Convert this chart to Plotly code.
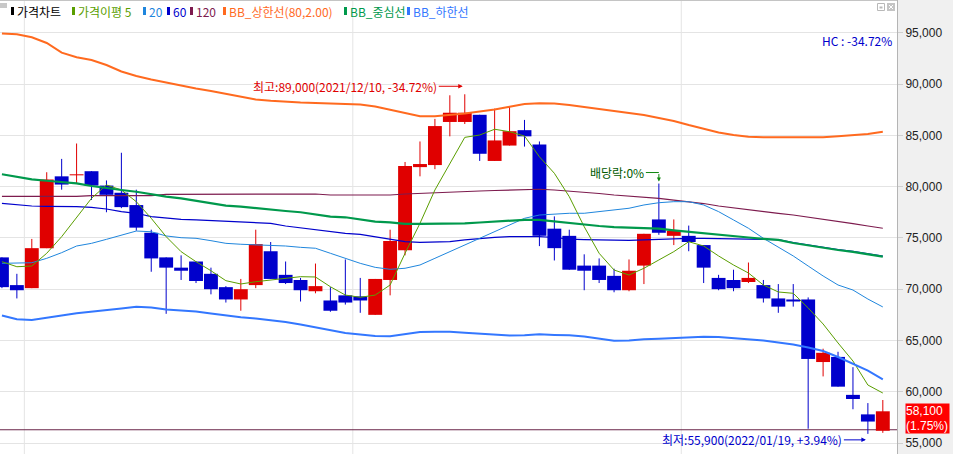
import plotly.graph_objects as go

# ---------------- data ----------------
dates = [
    "2021/10/28", "2021/10/29",
    "2021/11/01", "2021/11/02", "2021/11/03", "2021/11/04", "2021/11/05",
    "2021/11/08", "2021/11/09", "2021/11/10", "2021/11/11", "2021/11/12",
    "2021/11/15", "2021/11/16", "2021/11/17", "2021/11/18", "2021/11/19",
    "2021/11/22", "2021/11/23", "2021/11/24", "2021/11/25", "2021/11/26",
    "2021/11/29", "2021/11/30",
    "2021/12/01", "2021/12/02", "2021/12/03",
    "2021/12/06", "2021/12/07", "2021/12/08", "2021/12/09", "2021/12/10",
    "2021/12/13", "2021/12/14", "2021/12/15", "2021/12/16", "2021/12/17",
    "2021/12/20", "2021/12/21", "2021/12/22", "2021/12/23", "2021/12/24",
    "2021/12/27", "2021/12/28", "2021/12/29", "2021/12/30",
    "2022/01/03", "2022/01/04", "2022/01/05", "2022/01/06", "2022/01/07",
    "2022/01/10", "2022/01/11", "2022/01/12", "2022/01/13", "2022/01/14",
    "2022/01/17", "2022/01/18", "2022/01/19", "2022/01/20",
]

open_ = [73100, 70400, 70100, 74000, 81000, 81100, 81500, 80100, 79400, 78200,
         75500, 73100, 72100, 72700, 71500, 70200, 69000, 70400, 73700, 71400,
         70900, 69800, 68900, 69400, 69300, 67500, 70900, 73800, 81900, 82100,
         86300, 86300, 87000, 82500, 84000, 85500, 84100, 75900, 75200, 72300,
         72300, 71300, 69900, 72300, 76800, 75200, 75200, 74300, 71100, 70900,
         70700, 70400, 69100, 69000, 69000, 62900, 63400, 59700, 57800, 56200]
high = [73100, 71500, 74900, 81400, 82700, 84200, 81500, 80600, 83300, 79700,
        75800, 73100, 73300, 72700, 72100, 70300, 71000, 75800, 74600, 72700,
        71100, 72500, 70200, 72900, 71100, 71000, 75800, 82400, 84400, 86600,
        88900, 89000, 87000, 87600, 87800, 86500, 84400, 77100, 75800, 73400,
        73000, 72000, 72900, 75400, 80300, 76800, 76200, 74300, 71400, 71900,
        72600, 70900, 70500, 70500, 69200, 64200, 63900, 62400, 58900, 59200]
low = [70100, 69100, 70100, 74000, 79700, 80300, 78700, 77500, 77900, 75700,
       71700, 67600, 70900, 70600, 69500, 68700, 67900, 70100, 71000, 70500,
       68800, 69600, 67800, 68500, 67700, 67500, 69400, 73300, 81000, 81700,
       84900, 86100, 82500, 82500, 84000, 83900, 74200, 72800, 71900, 69900,
       70600, 69700, 69800, 70500, 75300, 74300, 73700, 70600, 69900, 69800,
       70600, 68700, 67700, 68300, 56400, 61500, 60500, 58300, 55900, 56000]
close = [70200, 69900, 74000, 80700, 80200, 81200, 80100, 79200, 78000, 76000,
         73000, 72100, 71800, 70800, 70000, 69000, 70000, 74400, 71000, 70600,
         69900, 70300, 67900, 68700, 68900, 71000, 74700, 82000, 82200, 85900,
         87200, 87200, 83200, 84500, 85400, 84900, 75200, 74000, 71900, 71800,
         70900, 69900, 71800, 75400, 75500, 75700, 74600, 72100, 70000, 70100,
         71100, 69100, 68300, 68800, 63200, 63800, 60500, 59300, 57100, 58100]

ma5 = [72680, 72190, 72260, 73500, 75120, 77010, 78860, 80160, 79670, 78530,
       76910, 75120, 73660, 72680, 71800, 70830, 70510, 70730, 70900, 71060,
       71220, 71190, 70240, 69430, 69210, 69430, 70410, 73500, 76420, 79670,
       82270, 84800, 85030, 85590, 85350, 84930, 82910, 81300, 79020, 76090,
       73500, 71870, 71380, 72040, 72850, 73660, 74630, 74210, 73240, 72360,
       71580, 70410, 69730, 69600, 68170, 66610, 64760, 63000, 60660, 59880]
ma20 = [72520, 72520, 72580, 73010, 73560, 74210, 74470, 74860, 75280, 75670,
        75600, 75190, 75020, 74960, 74730, 74470, 74380, 74310, 74310, 74210,
        74080, 73990, 73500, 73010, 72520, 72130, 71940, 72040, 72360, 73010,
        73660, 74310, 74960, 75600, 76260, 76910, 77230, 77330, 77400, 77400,
        77560, 77720, 77890, 78210, 78430, 78530, 78530, 78210, 77560, 76750,
        75940, 74960, 74140, 73240, 72260, 71290, 70410, 69920, 69040, 68270]
ma60 = [78370, 78210, 78110, 78080, 78080, 78040, 77980, 77820, 77560, 77400,
        77070, 76910, 76810, 76750, 76680, 76680, 76580, 76520, 76420, 76160,
        75990, 75840, 75600, 75450, 75350, 75120, 74860, 74630, 74570, 74570,
        74630, 74800, 74960, 75060, 75120, 75120, 75120, 75040, 74890, 74840,
        74800, 74730, 74750, 74800, 74860, 74910, 74960, 74960, 74960, 74940,
        74890, 74860, 74840, 74550, 74310, 74060, 73870, 73680, 73430, 73220]
ma120 = [79040, 79040, 79040, 79040, 79040, 79040, 79130, 79130, 79130, 79130,
         79130, 79250, 79250, 79250, 79250, 79250, 79250, 79250, 79250, 79250,
         79250, 79280, 79180, 79180, 79180, 79180, 79180, 79280, 79350, 79400,
         79440, 79500, 79570, 79620, 79670, 79740, 79740, 79670, 79570, 79420,
         79330, 79180, 79090, 78990, 78860, 78690, 78530, 78350, 78110, 77920,
         77720, 77520, 77400, 77230, 77030, 76840, 76650, 76400, 76160, 75940]
bb_mid = [81200, 80970, 80710, 80570, 80420, 80320, 80060, 79830, 79670, 79500,
          79250, 79020, 78860, 78630, 78370, 78140, 78040, 77890, 77720, 77620,
          77500, 77300, 77070, 77010, 76810, 76580, 76520, 76360, 76360, 76360,
          76390, 76420, 76500, 76580, 76650, 76760, 76760, 76600, 76420, 76290,
          76160, 76060, 76010, 75960, 75900, 75740, 75590, 75430, 75280, 75160,
          75040, 74910, 74800, 74500, 74260, 74020, 73820, 73630, 73380, 73170]
bb_up = [94920, 94840, 94550, 94000, 93050, 92600, 92340, 91850, 91220, 90780,
         90440, 90130, 89850, 89560, 89320, 89030, 88730, 88490, 88370, 88270,
         88200, 88150, 88100, 88080, 88000, 87810, 87470, 87170, 86850, 86850,
         86980, 87130, 87320, 87510, 87790, 88050, 88120, 88100, 87950, 87760,
         87580, 87420, 87220, 86980, 86690, 86400, 86000, 85620, 85270, 85030,
         84860, 84810, 84810, 84810, 84810, 84810, 84900, 85000, 85130, 85350]
bb_low = [67440, 67070, 67000, 67190, 67440, 67650, 67830, 67940, 68120, 68280,
          68220, 68020, 67900, 67830, 67630, 67440, 67260, 67140, 67000, 66800,
          66560, 66270, 66020, 65730, 65590, 65440, 65410, 65630, 65830, 65860,
          65850, 65750, 65680, 65630, 65490, 65520, 65600, 65540, 65510, 65390,
          65200, 64980, 65000, 65120, 65160, 65210, 65290, 65370, 65340, 65240,
          65120, 65000, 64800, 64610, 64320, 63980, 63390, 62760, 62070, 61220]

ex_div_date = "2021/12/29"
ex_div_rate = "0%"
ref_line_price = 56300
y_tick_vals = [55000, 60000, 65000, 70000, 75000, 80000, 85000, 90000, 95000]

legend_names = ["가격차트", "가격이평 5", "20", "60", "120",
                "BB_상한선(80,2.00)", "BB_중심선", "BB_하한선"]

# ---------------- styling ----------------
UP, DOWN = "#e00000", "#0000cc"
C_MA5, C_MA20, C_MA60, C_MA120 = "#5a9e00", "#1f86dd", "#0000cc", "#7d1b4e"
C_BBU, C_BBM, C_BBL = "#ff6a1f", "#00994c", "#3377ff"
KFONT = "Noto Sans CJK KR"
GRID = "#e4e4e4"

W, H = 953, 454
PLOT_W = 897


def px(xp):
    return xp / PLOT_W


def py(yp):
    return 1 - yp / H


n = len(close)
idx = list(range(n))

fig = go.Figure()

# wicks
for color, cond in ((UP, lambda i: close[i] >= open_[i]), (DOWN, lambda i: close[i] < open_[i])):
    xs, ys = [], []
    for i in idx:
        if cond(i):
            xs += [i, i, None]
            ys += [low[i], high[i], None]
    fig.add_trace(go.Scatter(x=xs, y=ys, mode="lines", line=dict(color=color, width=1),
                             hoverinfo="skip", connectgaps=False))

# bodies
fig.add_trace(go.Bar(
    x=idx,
    base=[min(o, c) for o, c in zip(open_, close)],
    y=[max(abs(c - o), 90) for o, c in zip(open_, close)],
    width=0.93,
    marker=dict(color=[UP if c >= o else DOWN for o, c in zip(open_, close)], line=dict(width=0)),
    hoverinfo="skip",
))

# moving averages and Bollinger bands
for vals, color, wdt in ((ma120, C_MA120, 1.2), (ma60, C_MA60, 1.2), (ma20, C_MA20, 1.0),
                         (ma5, C_MA5, 1.0), (bb_low, C_BBL, 2.0), (bb_mid, C_BBM, 2.2),
                         (bb_up, C_BBU, 2.0)):
    fig.add_trace(go.Scatter(x=idx, y=vals, mode="lines", line=dict(color=color, width=wdt),
                             hoverinfo="skip"))

shapes = []
# month separators
for i in range(1, n):
    if dates[i][:7] != dates[i - 1][:7]:
        shapes.append(dict(type="line", xref="x", yref="paper", x0=i - 0.5, x1=i - 0.5,
                           y0=0, y1=1, line=dict(color=GRID, width=1), layer="below"))
# reference horizontal line
shapes.append(dict(type="line", xref="paper", yref="y", x0=0, x1=1, y0=ref_line_price,
                   y1=ref_line_price, line=dict(color="#6a2448", width=1), layer="below"))
# top border
shapes.append(dict(type="line", xref="paper", yref="paper", x0=0, x1=1, y0=py(0.5), y1=py(0.5),
                   line=dict(color="#c4c4c4", width=1)))
# top-left small square
shapes.append(dict(type="rect", xref="paper", yref="paper", x0=px(0), x1=px(7), y0=py(8), y1=py(3),
                   fillcolor="#c8c8c8", line=dict(width=0)))
# top-right window icons
shapes.append(dict(type="rect", xref="paper", yref="paper", x0=px(877.5), x1=px(884.5), y0=py(10.5), y1=py(3.5),
                   fillcolor="#ffffff", line=dict(color="#b8b8b8", width=1)))
shapes.append(dict(type="rect", xref="paper", yref="paper", x0=px(879.5), x1=px(882.5), y0=py(8.5), y1=py(6.5),
                   fillcolor="#b8b8b8", line=dict(width=0)))
shapes.append(dict(type="rect", xref="paper", yref="paper", x0=px(887), x1=px(895), y0=py(11), y1=py(3),
                   fillcolor="#c4c4c4", line=dict(width=0)))
shapes.append(dict(type="line", xref="paper", yref="paper", x0=px(889), x1=px(893), y0=py(9), y1=py(5),
                   line=dict(color="#ffffff", width=1)))
shapes.append(dict(type="line", xref="paper", yref="paper", x0=px(889), x1=px(893), y0=py(5), y1=py(9),
                   line=dict(color="#ffffff", width=1)))

# legend markers + texts
legend_colors = ["#000000", C_MA5, C_MA20, C_MA60, C_MA120, C_BBU, C_BBM, C_BBL]
legend_mark_x = [11, 72, 143, 167, 190, 223, 344, 407]
annotations = []
for name, col, mx in zip(legend_names, legend_colors, legend_mark_x):
    shapes.append(dict(type="rect", xref="paper", yref="paper", x0=px(mx), x1=px(mx + 3),
                       y0=py(15), y1=py(7), fillcolor=col, line=dict(width=0)))
    annotations.append(dict(xref="paper", yref="paper", x=px(mx + 4), y=py(11.5), xanchor="left",
                            yanchor="middle", text=name, showarrow=False,
                            font=dict(family=KFONT, size=12, color=col)))

# highest / lowest markers
hi_i = max(idx, key=lambda i: high[i])
lo_i = min(idx, key=lambda i: low[i])
last = close[-1]
chg_pct = (close[-1] - close[-2]) / close[-2] * 100
hi_pct = (last - high[hi_i]) / high[hi_i] * 100
lo_pct = (last - low[lo_i]) / low[lo_i] * 100

annotations.append(dict(
    x=hi_i, y=high[hi_i], xref="x", yref="y", xshift=-2, yshift=8,
    text=f"최고:{high[hi_i]:,}({dates[hi_i]}, {hi_pct:.2f}%)",
    showarrow=True, ax=-24, ay=0, xanchor="right", yanchor="middle",
    arrowhead=2, arrowsize=0.9, arrowwidth=1, arrowcolor=UP,
    font=dict(family=KFONT, size=12, color=UP)))
annotations.append(dict(
    x=lo_i, y=low[lo_i], xref="x", yref="y", xshift=-2, yshift=-6,
    text=f"최저:{low[lo_i]:,}({dates[lo_i]}, +{lo_pct:.2f}%)",
    showarrow=True, ax=-22, ay=0, xanchor="right", yanchor="middle",
    arrowhead=2, arrowsize=0.9, arrowwidth=1, arrowcolor=DOWN,
    font=dict(family=KFONT, size=12, color=DOWN)))

# ex-dividend marker
ex_i = dates.index(ex_div_date)
annotations.append(dict(
    x=ex_i, y=high[ex_i], xref="x", yref="y", yshift=11,
    text=f"배당락:{ex_div_rate}", showarrow=True, ax=-13, ay=0, xanchor="right", yanchor="middle",
    arrowhead=0, arrowwidth=1, arrowcolor="#118811",
    font=dict(family=KFONT, size=12, color="#005a00")))
annotations.append(dict(
    x=ex_i, y=high[ex_i], xref="x", yref="y", yshift=2,
    text="", showarrow=True, ax=0, ay=-9,
    arrowhead=2, arrowsize=0.8, arrowwidth=1, arrowcolor="#118811"))

# HC label
annotations.append(dict(xref="paper", yref="paper", x=px(894), y=py(40), xanchor="right",
                        yanchor="middle", text=f"HC : {hi_pct:.2f}%", showarrow=False,
                        font=dict(family=KFONT, size=12, color="#0000cc")))

# current price tag
annotations.append(dict(xref="paper", yref="y", x=px(905), y=last, xanchor="left", yanchor="top",
                        yshift=8, text=f"{last:,}<br>({chg_pct:.2f}%)", showarrow=False,
                        bgcolor="#ff0000", width=43, height=29, align="left", borderpad=0,
                        font=dict(family="Liberation Sans", size=12, color="#ffffff")))

fig.update_layout(
    width=W, height=H,
    margin=dict(l=0, r=W - PLOT_W, t=0, b=0, autoexpand=False),
    paper_bgcolor="#f0f0f0", plot_bgcolor="#ffffff",
    showlegend=False, hovermode=False, barmode="overlay",
    xaxis=dict(range=[-0.13, 59.95], showgrid=False, zeroline=False, showticklabels=False,
               ticks="", showline=False, fixedrange=True),
    yaxis=dict(range=[53937, 98188], side="right", tickvals=y_tick_vals,
               ticktext=[f"{v:,}" for v in y_tick_vals], showgrid=True, gridcolor=GRID,
               gridwidth=1, ticks="outside", ticklen=5, tickcolor="#d0d0d0", zeroline=False,
               showline=True, linecolor="#b4b4b4", linewidth=1, fixedrange=True,
               tickfont=dict(family="Liberation Sans", size=12, color="#222222")),
    shapes=shapes, annotations=annotations,
)

fig.write_html("out.html", config={"displayModeBar": False, "staticPlot": True},
               post_script="document.body.style.margin='0px';document.body.style.overflow='hidden';")
